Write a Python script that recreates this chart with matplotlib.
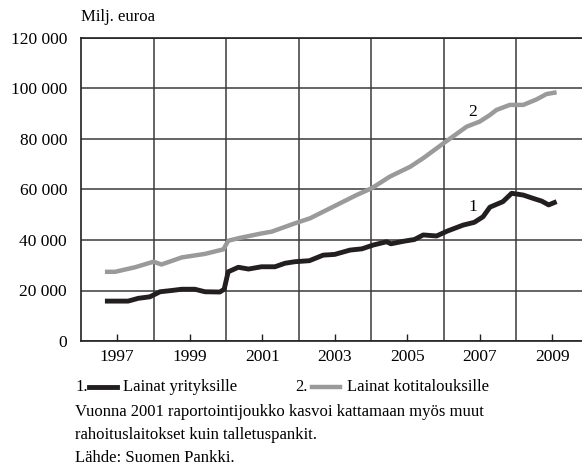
import numpy as np
import matplotlib
matplotlib.use('Agg')
import matplotlib.pyplot as plt
from matplotlib.lines import Line2D
from matplotlib.ticker import FuncFormatter

matplotlib.rcParams.update({'font.family': 'Liberation Serif', 'font.size': 12})

# Lainat yrityksille (1), decimal years and million euros
yr_firms = [1996.66, 1997.0, 1997.3, 1997.58, 1997.9, 1998.18, 1998.5, 1998.78, 1999.14, 1999.42,
            1999.83, 1999.95, 2000.06, 2000.34, 2000.62, 2000.98, 2001.35, 2001.63, 2001.9,
            2002.3, 2002.68, 2003.0, 2003.42, 2003.75, 2004.06, 2004.43, 2004.55, 2004.9,
            2005.2, 2005.44, 2005.81, 2006.1, 2006.54, 2006.85, 2007.09, 2007.28, 2007.64,
            2007.88, 2008.2, 2008.47, 2008.71, 2008.9, 2009.12]
firms = [15800, 15800, 15800, 16900, 17500, 19500, 20000, 20500, 20500, 19500,
         19400, 20500, 27400, 29200, 28500, 29400, 29400, 30800, 31400,
         31800, 34000, 34300, 36000, 36500, 38000, 39300, 38500, 39500,
         40200, 42000, 41600, 43500, 45900, 47000, 49200, 53000, 55200,
         58500, 57800, 56500, 55400, 53900, 55200]

# Lainat kotitalouksille (2)
yr_house = [1996.66, 1996.94, 1997.49, 1998.0, 1998.22, 1998.78, 1999.42, 1999.93, 2000.06,
            2000.34, 2000.98, 2001.26, 2001.9, 2002.32, 2002.96, 2003.6, 2004.02, 2004.52,
            2005.08, 2005.44, 2006.0, 2006.64, 2007.0, 2007.28, 2007.46, 2007.83, 2008.2,
            2008.57, 2008.84, 2009.12]
house = [27400, 27400, 29200, 31400, 30300, 33100, 34500, 36300, 39700,
         40700, 42600, 43300, 46600, 48600, 53200, 57800, 60500, 65100,
         69000, 72400, 78300, 84900, 86900, 89500, 91500, 93500, 93500,
         95700, 97800, 98500]

grid_years = [1998, 2000, 2002, 2004, 2006, 2008]
label_years = [1997, 1999, 2001, 2003, 2005, 2007, 2009]
y_ticks = [0, 20000, 40000, 60000, 80000, 100000, 120000]

W, H = 582, 468
fig = plt.figure(figsize=(W / 100, H / 100), dpi=100)
ax = fig.add_axes([81 / W, 1 - 341 / H, 501 / W, 303 / H])

ax.plot(yr_house, house, color='#9a9a9a', lw=3.2, solid_capstyle='butt', zorder=3)
ax.plot(yr_firms, firms, color='#231f20', lw=3.5, solid_capstyle='butt', zorder=4)

ax.set_xlim(1996, 1996 + 501 / 36.25)
ax.set_ylim(0, 120000)

ax.set_xticks(grid_years)
ax.set_xticklabels([])
ax.set_xticks(label_years, minor=True)
ax.set_xticklabels([str(y) for y in label_years], minor=True)
ax.tick_params(axis='x', which='major', length=0)
ax.tick_params(axis='x', which='minor', direction='in', length=5, width=1, color='#231f20', pad=6, labelsize=12.5)

ax.set_yticks(y_ticks)
ax.yaxis.set_major_formatter(FuncFormatter(lambda v, p: '{:,}'.format(int(v)).replace(',', ' ')))
ax.tick_params(axis='y', length=0, pad=10, labelsize=12.5)

ax.grid(True, which='major', color='#3a3a3a', lw=1.1)
ax.set_axisbelow(True)
for s in ['left', 'bottom', 'top']:
    ax.spines[s].set_color('#231f20')
    ax.spines[s].set_linewidth(1.2)
ax.spines['right'].set_visible(False)

ax.text(2006.81, 90700, '2', fontsize=12.5, ha='center', va='center')
ax.text(2006.81, 53100, '1', fontsize=12.5, ha='center', va='center')

fig.text(81 / W, 1 - 17 / H, 'Milj. euroa', fontsize=12, ha='left', va='center')

##################################################################
ly = 1 - 387 / H
fig.text(75 / W, ly, '1.', fontsize=12, ha='left', va='center')
fig.add_artist(Line2D([89 / W, 117 / W], [ly, ly], color='#231f20', lw=3.5))
fig.text(123 / W, ly, 'Lainat yrityksille', fontsize=12, ha='left', va='center')
fig.text(295 / W, ly, '2.', fontsize=12, ha='left', va='center')
fig.add_artist(Line2D([312 / W, 340 / W], [ly, ly], color='#9a9a9a', lw=3.2))
fig.text(347 / W, ly, 'Lainat kotitalouksille', fontsize=12, ha='left', va='center')

fig.text(75 / W, 1 - 412 / H, 'Vuonna 2001 raportointijoukko kasvoi kattamaan myös muut', fontsize=12, ha='left', va='center')
fig.text(75 / W, 1 - 435 / H, 'rahoituslaitokset kuin talletuspankit.', fontsize=12, ha='left', va='center')
fig.text(75 / W, 1 - 458 / H, 'Lähde: Suomen Pankki.', fontsize=12, ha='left', va='center')

plt.savefig('out.png', dpi=100)
